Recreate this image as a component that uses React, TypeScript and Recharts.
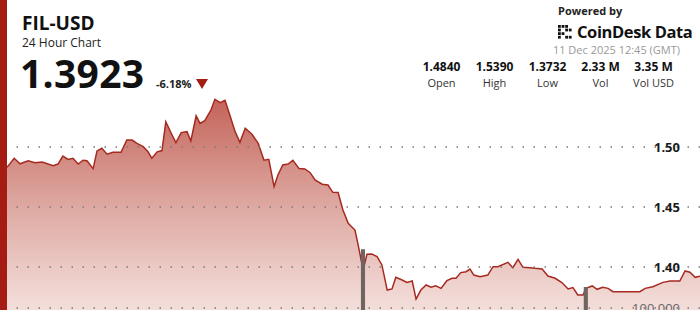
import { ComposedChart, Area, Bar, XAxis, YAxis, ReferenceLine } from 'recharts';

// minutes since window start (24h = 1440)
const minutes = [
    0, 15, 27, 44, 58, 73, 96, 106, 116, 127, 137, 148, 158, 166, 179, 187, 197, 208, 220, 237,
    249, 260, 270, 283, 293, 301, 312, 322, 330, 343, 351, 362, 374, 382, 393, 401, 411, 424, 432, 443,
    453, 463, 474, 484, 495, 509, 522, 534, 544, 555, 563, 573, 584, 594, 607, 619, 630, 640, 655, 667,
    677, 688, 698, 709, 723, 729, 740, 748, 758, 769, 779, 790, 800, 808, 821, 831, 842, 850, 860, 871,
    881, 891, 902, 914, 925, 933, 943, 954, 962, 970, 983, 999, 1010, 1020, 1041, 1051, 1062, 1072, 1087, 1097,
    1112, 1124, 1139, 1153, 1166, 1176, 1186, 1197, 1203, 1216, 1226, 1238, 1249, 1259, 1286, 1315, 1326, 1342, 1363, 1378,
    1398, 1409, 1419, 1430, 1440,
];

const prices = [
    1.483, 1.4906, 1.486, 1.4886, 1.4869, 1.4875, 1.4844, 1.4858, 1.4925, 1.4897, 1.4906, 1.4858, 1.489, 1.4886, 1.482, 1.4967, 1.4989, 1.494, 1.4956, 1.4956,
    1.5058, 1.5058, 1.503, 1.5003, 1.496, 1.4906, 1.496, 1.497, 1.521, 1.51, 1.5036, 1.512, 1.5128, 1.505, 1.526, 1.5197, 1.522, 1.531, 1.5397, 1.537,
    1.539, 1.5267, 1.5128, 1.504, 1.5156, 1.5106, 1.503, 1.489, 1.4897, 1.467, 1.4767, 1.485, 1.4858, 1.489, 1.482, 1.4817, 1.4786, 1.4725, 1.469, 1.4683,
    1.4622, 1.462, 1.4475, 1.4364, 1.4308, 1.4197, 1.3975, 1.4106, 1.4108, 1.4086, 1.4017, 1.3808, 1.3817, 1.3914, 1.3892, 1.3872, 1.3883, 1.3732, 1.3808, 1.385,
    1.3831, 1.3844, 1.3822, 1.3886, 1.3906, 1.3906, 1.3953, 1.3961, 1.3983, 1.3933, 1.3919, 1.3933, 1.4003, 1.4003, 1.4039, 1.3994, 1.4064, 1.3997, 1.3994, 1.3989,
    1.3983, 1.3925, 1.3906, 1.387, 1.3817, 1.3828, 1.3767, 1.3767, 1.3822, 1.3842, 1.3814, 1.3831, 1.3822, 1.3794, 1.3794, 1.3794, 1.3822, 1.3836, 1.3872, 1.3883,
    1.3883, 1.3967, 1.3956, 1.3914, 1.3923,
];

// only the two volume spikes reach the visible part of the chart
const volumeSpikes: Record<number, number> = { 740: 238000, 1203: 148000 };

const priceTicks = [1.4, 1.45, 1.5];
const volumeTicks = [100000];

const stats = [
    { value: '1.4840', label: 'Open' },
    { value: '1.5390', label: 'High' },
    { value: '1.3732', label: 'Low' },
    { value: '2.33 M', label: 'Vol' },
    { value: '3.35 M', label: 'Vol USD' },
];

const data = minutes.map((t, i) => ({ t, price: prices[i], volume: volumeSpikes[t] ?? 0 }));

const font = '"Open Sans", "Noto Sans", sans-serif';
const red = '#a51d12';

function LogoMark() {
    const cells = [
        [0, 0], [1, 0], [2, 0], [0, 1], [2, 1], [0, 2], [1, 2], [0, 3], [2, 3], [3, 1], [3, 3],
    ];
    return (
        <svg width="15" height="14" style={{ display: 'block' }}>
            {cells.map(([c, r], i) => (
                <rect key={i} x={c * 3.6} y={r * 3.6} width={2.8} height={2.8} fill="#111" />
            ))}
        </svg>
    );
}

export default function App() {
    return (
        <div style={{ position: 'absolute', left: 0, top: 0, width: 700, height: 310, overflow: 'hidden', background: '#fff', fontFamily: font }}>
            <div style={{ position: 'absolute', left: 0, top: 0, width: 7, height: 310, background: red, zIndex: 3 }} />

            <div style={{ position: 'absolute', top: 0, left: 0 }}>
                <ComposedChart width={700} height={350} data={data} margin={{ top: 0, right: 0, bottom: 0, left: 7 }}>
                    <defs>
                        <linearGradient id="priceFill" x1="0" y1="0" x2="0" y2="1">
                            <stop offset="0%" stopColor="#c4645a" />
                            <stop offset="40%" stopColor="#dca59e" />
                            <stop offset="80%" stopColor="#f2dad6" />
                            <stop offset="100%" stopColor="#f7e9e7" />
                        </linearGradient>
                    </defs>
                    <XAxis dataKey="t" type="number" domain={[0, 1440]} hide />
                    <Area
                        yAxisId="price"
                        type="linear"
                        dataKey="price"
                        stroke="#a62a20"
                        strokeWidth={1.5}
                        fill="url(#priceFill)"
                        fillOpacity={1}
                        isAnimationActive={false}
                        baseValue="dataMin"
                    />
                    <Bar
                        yAxisId="vol"
                        dataKey="volume"
                        fill="#6f6562"
                        stroke="#6f6562"
                        strokeWidth={1.5}
                        barSize={4}
                        isAnimationActive={false}
                    />
                    {priceTicks.map(v => (
                        <ReferenceLine key={v} yAxisId="price" y={v} stroke="#7a7a7a" strokeWidth={1.5} strokeDasharray="1.5 9.5" />
                    ))}
                    {volumeTicks.map(v => (
                        <ReferenceLine key={v} yAxisId="vol" y={v} stroke="#7a7a7a" strokeWidth={1.5} strokeDasharray="1.5 9.5" />
                    ))}
                    <YAxis
                        yAxisId="price"
                        orientation="right"
                        mirror
                        domain={[1.33083, 1.6225]}
                        ticks={priceTicks}
                        tickFormatter={v => v.toFixed(2)}
                        axisLine={false}
                        tickLine={false}
                        tickSize={6}
                        tickMargin={14}
                        tick={{ fontSize: 13, fontWeight: 700, fill: '#1a1a1a', fontFamily: font }}
                        allowDataOverflow
                    />
                    <YAxis
                        yAxisId="vol"
                        orientation="right"
                        mirror
                        domain={[0, 833333]}
                        ticks={volumeTicks}
                        tickFormatter={v => v.toLocaleString('en-US')}
                        axisLine={false}
                        tickLine={false}
                        tickSize={6}
                        tickMargin={-46}
                        tick={{ fontSize: 13, fill: '#666', fontFamily: font }}
                        allowDataOverflow
                    />
                </ComposedChart>
            </div>

            <div style={{ position: 'absolute', left: 22, top: 14, fontSize: 19, fontWeight: 700, color: '#111', lineHeight: 1 }}>FIL-USD</div>
            <div style={{ position: 'absolute', left: 22, top: 37, fontSize: 12, color: '#222', lineHeight: 1 }}>24 Hour Chart</div>
            <div style={{ position: 'absolute', left: 20, top: 53, fontSize: 39, fontWeight: 700, color: '#111', lineHeight: 1, letterSpacing: 0.3 }}>1.3923</div>
            <div style={{ position: 'absolute', left: 156, top: 78, fontSize: 11, fontWeight: 700, color: '#222', lineHeight: 1 }}>-6.18%</div>
            <svg style={{ position: 'absolute', left: 196, top: 79 }} width="12" height="10">
                <polygon points="0,0 12,0 6,10" fill={red} />
            </svg>

            <div style={{ position: 'absolute', left: 558, top: 5, fontSize: 11, fontWeight: 700, color: '#222', lineHeight: 1 }}>Powered by</div>
            <div style={{ position: 'absolute', left: 558, top: 24, display: 'flex', alignItems: 'center', gap: 4 }}>
                <LogoMark />
                <span style={{ fontSize: 16.5, fontWeight: 700, color: '#111', lineHeight: 1, letterSpacing: -0.4 }}>CoinDesk Data</span>
            </div>
            <div style={{ position: 'absolute', right: 20, top: 44, fontSize: 11, color: '#999', lineHeight: 1 }}>11 Dec 2025 12:45 (GMT)</div>

            <div style={{ position: 'absolute', right: 20, top: 61, display: 'flex' }}>
                {stats.map(s => (
                    <div key={s.label} style={{ width: 53, textAlign: 'center', lineHeight: 1 }}>
                        <div style={{ fontSize: 12, fontWeight: 700, color: '#111' }}>{s.value}</div>
                        <div style={{ fontSize: 11, color: '#333', marginTop: 4 }}>{s.label}</div>
                    </div>
                ))}
            </div>
        </div>
    );
}
